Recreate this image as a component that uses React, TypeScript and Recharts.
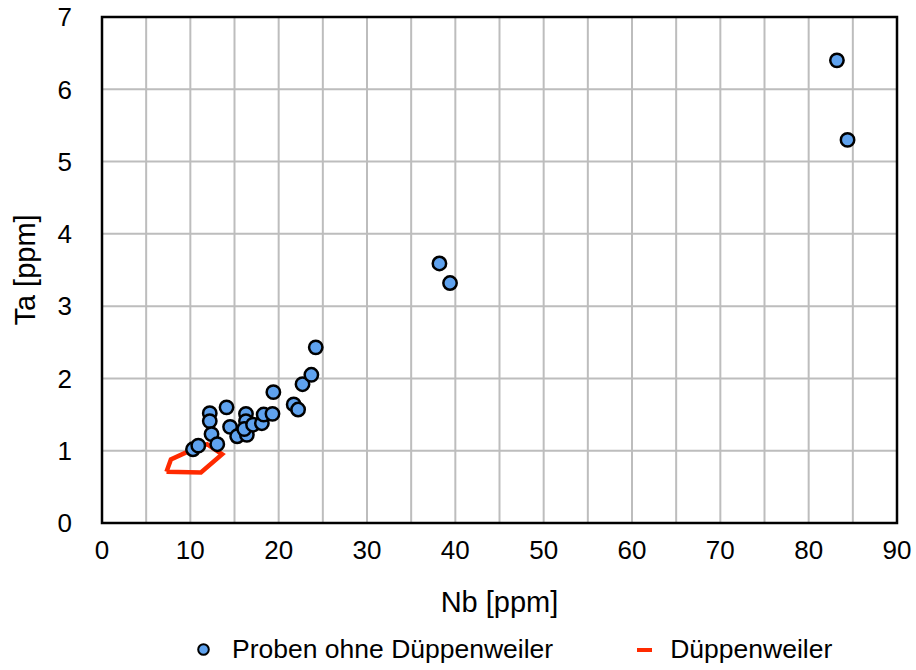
import {
  ScatterChart,
  Scatter,
  XAxis,
  YAxis,
  CartesianGrid,
  Legend,
  Label,
  ReferenceArea,
} from 'recharts';

// Proben ohne Düppenweiler (Nb, Ta in ppm)
const probenNb = [10.3, 10.9, 12.2, 12.2, 12.4, 13.05, 14.1, 14.5, 15.3, 16.3, 16.3, 16.4, 16.1, 17.1, 18.1, 18.3, 19.3, 19.4, 21.7, 22.2, 22.7, 23.7, 24.2, 38.2, 39.4, 83.2, 84.4];
const probenTa = [1.02, 1.07, 1.52, 1.41, 1.23, 1.09, 1.6, 1.33, 1.2, 1.51, 1.41, 1.22, 1.3, 1.36, 1.38, 1.5, 1.51, 1.81, 1.64, 1.57, 1.92, 2.05, 2.43, 3.59, 3.32, 6.4, 5.3];

// Düppenweiler field outline
const dueppNb = [7.3, 7.8, 9.6, 11.9, 13.6, 11.2, 7.3];
const dueppTa = [0.71, 0.88, 0.98, 1.09, 0.95, 0.7, 0.71];

const xTicks = [0, 5, 10, 15, 20, 25, 30, 35, 40, 45, 50, 55, 60, 65, 70, 75, 80, 85, 90];
const yTicks = [0, 1, 2, 3, 4, 5, 6, 7];

const FONT = '"Liberation Sans", Arial, Helvetica, sans-serif';
const BLUE = '#5fa2ee';
const RED = '#ff2a00';

const proben = probenNb.map((nb, i) => ({ nb, ta: probenTa[i] }));
const duepp = dueppNb.map((nb, i) => ({ nb, ta: dueppTa[i] }));

const Dot = (props: any) => {
  const { cx, cy } = props;
  if (cx == null || cy == null) return <g />;
  return <circle cx={cx} cy={cy} r={6.7} fill={BLUE} stroke="#000" strokeWidth={2.5} />;
};

const YTitle = (props: any) => {
  const vb = props.viewBox;
  const cx = vb.x + 35;
  const cy = vb.y + vb.height / 2;
  return (
    <text x={cx} y={cy} transform={`rotate(-90 ${cx} ${cy})`} textAnchor="middle" fontSize={29} fontFamily={FONT} fill="#000">
      Ta [ppm]
    </text>
  );
};

const XTitle = (props: any) => {
  const vb = props.viewBox;
  return (
    <text x={vb.x + vb.width / 2} y={vb.y + vb.height} textAnchor="middle" fontSize={29} fontFamily={FONT} fill="#000">
      Nb [ppm]
    </text>
  );
};

const LegendBox = () => (
  <div style={{ display: 'flex', alignItems: 'center', paddingLeft: 197, fontFamily: FONT, fontSize: 26.5, color: '#000' }}>
    <svg width={13} height={13} style={{ marginRight: 22 }}>
      <circle cx={6.5} cy={6.5} r={5.3} fill={BLUE} stroke="#000" strokeWidth={2} />
    </svg>
    <span>Proben ohne Düppenweiler</span>
    <svg width={15} height={6} style={{ marginLeft: 84, marginRight: 18 }}>
      <rect x={0} y={1} width={15} height={4} fill={RED} />
    </svg>
    <span>Düppenweiler</span>
  </div>
);

export default function App() {
  return (
    <div style={{ position: 'absolute', left: 0, top: 0, background: '#fff' }}>
      <ScatterChart width={916} height={670} margin={{ top: 17, right: 19, bottom: 58, left: 0 }}>
        <CartesianGrid stroke="#bdbdbd" strokeWidth={2} />
        <XAxis
          type="number"
          dataKey="nb"
          domain={[0, 90]}
          ticks={xTicks}
          interval={0}
          tickFormatter={(v: number) => (v % 10 === 0 ? String(v) : '')}
          height={89}
          tickLine={false}
          tickSize={0}
          tickMargin={18}
          axisLine={false}
          tick={{ fill: '#000', fontSize: 26, fontFamily: FONT }}
        >
          <Label content={XTitle} />
        </XAxis>
        <YAxis
          type="number"
          dataKey="ta"
          domain={[0, 7]}
          ticks={yTicks}
          interval={0}
          width={102}
          tickLine={false}
          tickSize={0}
          tickMargin={30}
          axisLine={false}
          tick={{ fill: '#000', fontSize: 26, fontFamily: FONT }}
        >
          <Label content={YTitle} />
        </YAxis>
        <ReferenceArea x1={0} x2={90} y1={0} y2={7} fill="none" stroke="#000" strokeWidth={2.5} fillOpacity={0} />
        <Scatter
          name="Düppenweiler"
          data={duepp}
          line={{ stroke: RED, strokeWidth: 4.5 }}
          lineJointType="linear"
          shape={() => <g />}
          isAnimationActive={false}
        />
        <Scatter name="Proben ohne Düppenweiler" data={proben} shape={Dot} isAnimationActive={false} />
        <Legend
          layout="horizontal"
          verticalAlign="middle"
          align="center"
          content={LegendBox}
          wrapperStyle={{ top: 634, left: 0, width: 916 }}
        />
      </ScatterChart>
    </div>
  );
}
